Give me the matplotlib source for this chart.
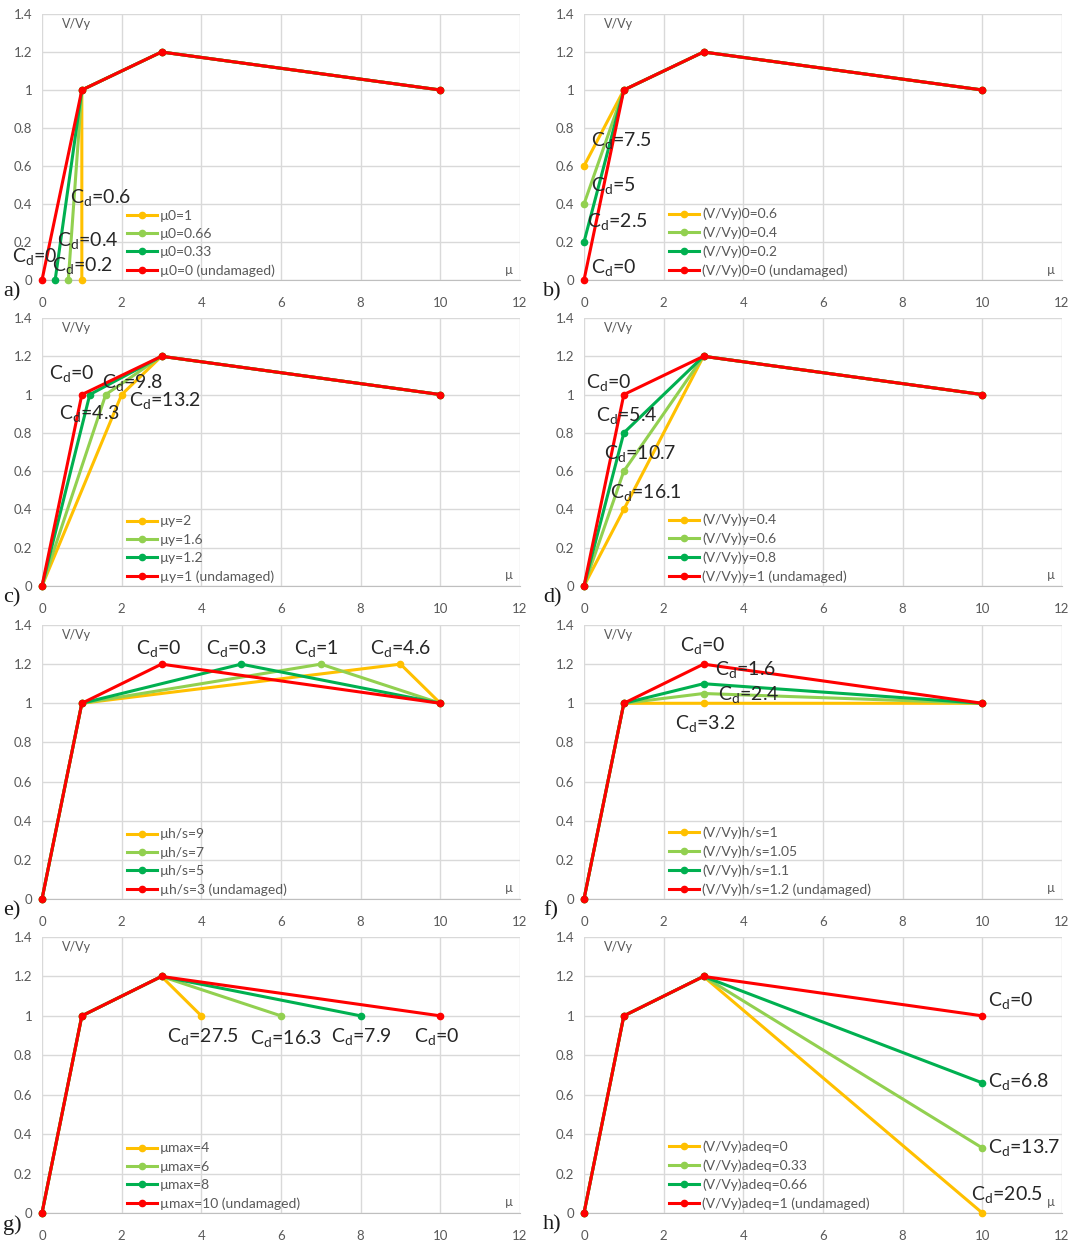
import matplotlib
matplotlib.use("Agg")
import matplotlib.pyplot as plt

plt.rcParams['font.family'] = ['Lato', 'DejaVu Sans']
plt.rcParams['mathtext.fontset'] = 'custom'
plt.rcParams['mathtext.rm'] = 'Lato'

COLORS = ['#FFC000', '#92D050', '#00B050', '#FF0000']

# ---------------- data ----------------
# a) mu0
A_X = [[1, 1, 3, 10], [0.66, 1, 3, 10], [0.33, 1, 3, 10], [0, 1, 3, 10]]
A_Y = [[0, 1, 1.2, 1], [0, 1, 1.2, 1], [0, 1, 1.2, 1], [0, 1, 1.2, 1]]
A_LAB = ['µ0=1', 'µ0=0.66', 'µ0=0.33', 'µ0=0 (undamaged)']
A_CD = ['0.6', '0.4', '0', '0.2']
A_CD_POS = [(0.70, 0.43), (0.38, 0.205), (-0.75, 0.12), (0.25, 0.074)]

# b) (V/Vy)0
B_X = [[0, 1, 3, 10]] * 4
B_Y = [[0.6, 1, 1.2, 1], [0.4, 1, 1.2, 1], [0.2, 1, 1.2, 1], [0, 1, 1.2, 1]]
B_LAB = ['(V/Vy)0=0.6', '(V/Vy)0=0.4', '(V/Vy)0=0.2', '(V/Vy)0=0 (undamaged)']
B_CD = ['7.5', '5', '2.5', '0']
B_CD_POS = [(0.18, 0.73), (0.18, 0.495), (0.08, 0.305), (0.18, 0.063)]

# c) mu_y
C_X = [[0, 2, 3, 10], [0, 1.6, 3, 10], [0, 1.2, 3, 10], [0, 1, 3, 10]]
C_Y = [[0, 1, 1.2, 1]] * 4
C_LAB = ['µy=2', 'µy=1.6', 'µy=1.2', 'µy=1 (undamaged)']
C_CD = ['0', '9.8', '4.3', '13.2']
C_CD_POS = [(0.18, 1.104), (1.51, 1.06), (0.43, 0.896), (2.19, 0.964)]

# d) (V/Vy)y
D_X = [[0, 1, 3, 10]] * 4
D_Y = [[0, 0.4, 1.2, 1], [0, 0.6, 1.2, 1], [0, 0.8, 1.2, 1], [0, 1, 1.2, 1]]
D_LAB = ['(V/Vy)y=0.4', '(V/Vy)y=0.6', '(V/Vy)y=0.8', '(V/Vy)y=1 (undamaged)']
D_CD = ['0', '5.4', '10.7', '16.1']
D_CD_POS = [(0.05, 1.06), (0.30, 0.885), (0.50, 0.69), (0.65, 0.485)]

# e) mu h/s
E_X = [[0, 1, 9, 10], [0, 1, 7, 10], [0, 1, 5, 10], [0, 1, 3, 10]]
E_Y = [[0, 1, 1.2, 1]] * 4
E_LAB = ['µh/s=9', 'µh/s=7', 'µh/s=5', 'µh/s=3 (undamaged)']
E_CD = ['0', '0.3', '1', '4.6']
E_CD_POS = [(2.36, 1.275), (4.12, 1.275), (6.33, 1.275), (8.24, 1.275)]

# f) (V/Vy)h/s
F_X = [[0, 1, 3, 10]] * 4
F_Y = [[0, 1, 1.0, 1], [0, 1, 1.05, 1], [0, 1, 1.1, 1], [0, 1, 1.2, 1]]
F_LAB = ['(V/Vy)h/s=1', '(V/Vy)h/s=1.05', '(V/Vy)h/s=1.1', '(V/Vy)h/s=1.2 (undamaged)']
F_CD = ['0', '1.6', '2.4', '3.2']
F_CD_POS = [(2.41, 1.29), (3.29, 1.168), (3.37, 1.04), (2.29, 0.893)]

# g) mu max
G_X = [[0, 1, 3, 4], [0, 1, 3, 6], [0, 1, 3, 8], [0, 1, 3, 10]]
G_Y = [[0, 1, 1.2, 1]] * 4
G_LAB = ['µmax=4', 'µmax=6', 'µmax=8', 'µmax=10 (undamaged)']
G_CD = ['27.5', '16.3', '7.9', '0']
G_CD_POS = [(3.14, 0.893), (5.23, 0.88), (7.26, 0.893), (9.35, 0.893)]

# h) (V/Vy)adeq
H_X = [[0, 1, 3, 10]] * 4
H_Y = [[0, 1, 1.2, 0], [0, 1, 1.2, 0.33], [0, 1, 1.2, 0.66], [0, 1, 1.2, 1]]
H_LAB = ['(V/Vy)adeq=0', '(V/Vy)adeq=0.33', '(V/Vy)adeq=0.66', '(V/Vy)adeq=1 (undamaged)']
H_CD = ['0', '6.8', '13.7', '20.5']
H_CD_POS = [(10.15, 1.076), (10.13, 0.665), (10.15, 0.33), (9.72, 0.091)]

X_TICKS = [0, 2, 4, 6, 8, 10, 12]
Y_TICKS = [0, 0.2, 0.4, 0.6, 0.8, 1, 1.2, 1.4]
Y_TICKLABELS = ['0', '0.2', '0.4', '0.6', '0.8', '1', '1.2', '1.4']

PANELS = [
    ('a)', A_X, A_Y, A_LAB, A_CD, A_CD_POS),
    ('b)', B_X, B_Y, B_LAB, B_CD, B_CD_POS),
    ('c)', C_X, C_Y, C_LAB, C_CD, C_CD_POS),
    ('d)', D_X, D_Y, D_LAB, D_CD, D_CD_POS),
    ('e)', E_X, E_Y, E_LAB, E_CD, E_CD_POS),
    ('f)', F_X, F_Y, F_LAB, F_CD, F_CD_POS),
    ('g)', G_X, G_Y, G_LAB, G_CD, G_CD_POS),
    ('h)', H_X, H_Y, H_LAB, H_CD, H_CD_POS),
]

# ---------------- layout ----------------
W, H = 1071, 1245
fig = plt.figure(figsize=(W / 100, H / 100), dpi=100)

col_px = [(42, 520), (584, 1062)]
row_px = [(14, 280), (318, 586), (625, 899), (937, 1213)]

TXT = '#595959'
GRID = '#d9d9d9'

for i, (tag, xs, ys, labs, cds, cdpos) in enumerate(PANELS):
    r, c = divmod(i, 2)
    x0, x1 = col_px[c]
    t, b = row_px[r]
    ax = fig.add_axes([x0 / W, 1 - b / H, (x1 - x0) / W, (b - t) / H])
    ax.set_xlim(0, 12)
    ax.set_ylim(0, 1.4)
    ax.set_xticks(X_TICKS)
    ax.set_yticks(Y_TICKS)
    ax.set_yticklabels(Y_TICKLABELS)
    ax.grid(True, color=GRID, lw=1.0)
    ax.set_axisbelow(True)
    for s in ['top', 'right', 'left']:
        ax.spines[s].set_visible(False)
    ax.spines['bottom'].set_color('#bfbfbf')
    ax.tick_params(length=0, labelsize=9.5, labelcolor=TXT)
    ax.tick_params(axis='x', pad=12)
    ax.tick_params(axis='y', pad=7)

    for k in range(4):
        ax.plot(xs[k], ys[k], color=COLORS[k], lw=2.2, marker='o', ms=4.5,
                label=labs[k], zorder=3 + k, clip_on=False)

    leg = ax.legend(loc='lower left', bbox_to_anchor=(0.177, 0.012),
                    frameon=False, fontsize=10, handlelength=2.2,
                    handletextpad=0.2, labelspacing=0.45, borderpad=0,
                    borderaxespad=0, numpoints=1)
    for tx in leg.get_texts():
        tx.set_color(TXT)

    ax.text(0.5, 1.35, 'V/Vy', fontsize=9, color=TXT, va='center', ha='left')
    ax.text(11.62, 0.055, 'µ', fontsize=9, color=TXT, va='center', ha='left')

    for val, (px, py) in zip(cds, cdpos):
        ax.text(px, py, r'C$_{\mathregular{d}}$=' + val, fontsize=14,
                color='#262626', va='center', ha='left', zorder=10, clip_on=False)

    fig.text((3 if c == 0 else 543) / W, 1 - (b + 12) / H, tag,
             family=['Liberation Serif', 'DejaVu Serif'], fontsize=16,
             color='#1a1a1a', va='center', ha='left')

fig.savefig('out.png', dpi=100)
